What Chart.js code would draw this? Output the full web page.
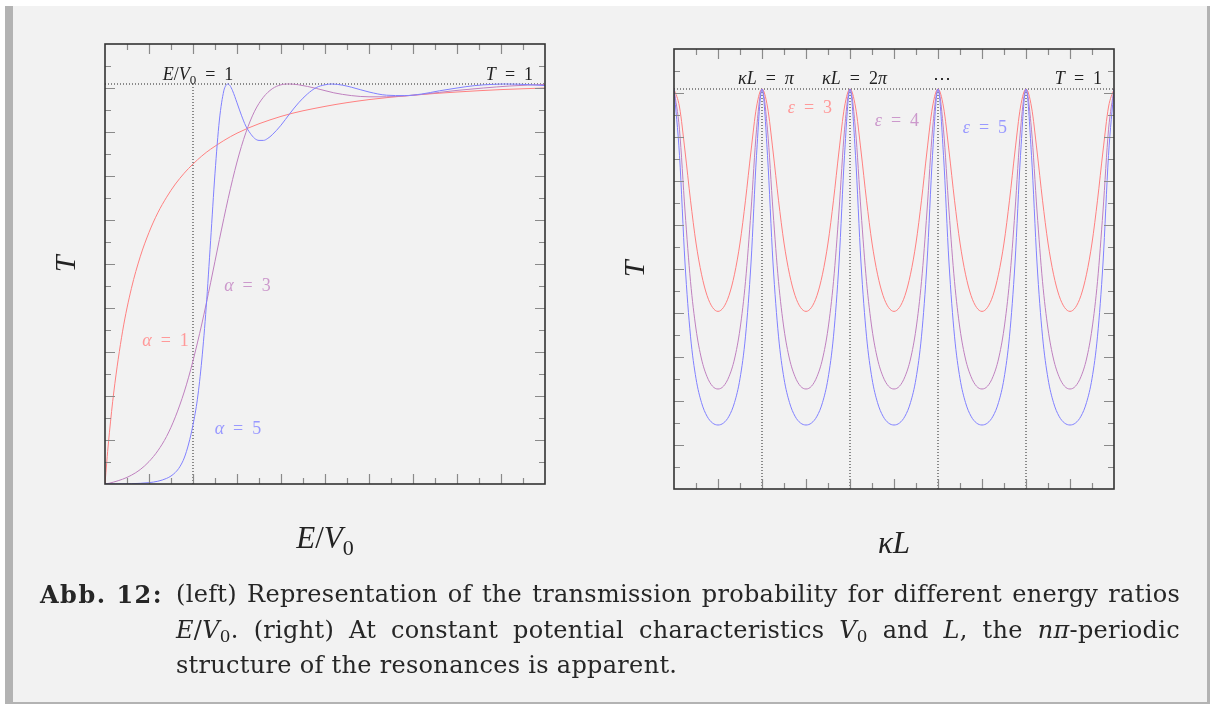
<!DOCTYPE html>
<html>
<head>
<meta charset="utf-8">
<script src="https://cdn.jsdelivr.net/npm/chart.js@4.4.0/dist/chart.umd.min.js"></script>
<style>
  html, body { margin: 0; padding: 0; background: #fff; }
  body { width: 1210px; height: 704px; position: relative; overflow: hidden; }
  #panel { position: absolute; left: 5px; top: 6px; width: 1194px; height: 696px; background: #f2f2f2;
           border-left: 8px solid #b3b3b3; border-right: 3px solid #b3b3b3; border-bottom: 2px solid #b3b3b3; }
  canvas { position: absolute; top: 0; }
  #left { left: 0; }
  #right { left: 590px; }
  #cap { position: absolute; left: 0; top: 577px; font-family: 'DejaVu Serif', 'Liberation Serif', serif;
         font-size: 24px; line-height: 35.5px; color: #262626; letter-spacing: 0.3px; }
  #cap .lab { position: absolute; left: 40px; top: 0; font-weight: bold; white-space: nowrap; letter-spacing: 1.5px; }
  #cap .body { position: absolute; left: 176px; top: 0; width: 1004px; }
  #cap .ln { white-space: nowrap; }
  #cap .j { text-align: justify; text-align-last: justify; white-space: normal; }
  #cap sub { font-size: 0.7em; vertical-align: -0.25em; line-height: 0; }
</style>
</head>
<body>
<div id="panel"></div>
<canvas id="left" width="590" height="580"></canvas>
<canvas id="right" width="600" height="580"></canvas>
<div id="cap">
  <div class="lab">Abb. 12:</div>
  <div class="body">
    <div class="ln j">(left) Representation of the transmission probability for different energy ratios</div>
    <div class="ln j"><i>E</i>/<i>V</i><sub>0</sub>. (right) At constant potential characteristics <i>V</i><sub>0</sub> and <i>L</i>, the <i>nπ</i>-periodic</div>
    <div class="ln">structure of the resonances is apparent.</div>
  </div>
</div>
<script>
// ---- left plot: T over E/V0 for alpha = 1, 3, 5
const evRed = [0, 0.01, 0.02, 0.03, 0.05, 0.1, 0.2, 0.3, 0.4, 0.5, 0.6, 0.7, 0.8, 0.9, 0.95, 1.0, 1.1, 1.2, 1.5, 2.0, 2.5, 3.0, 3.5, 4.0, 4.5, 5.0];
const tRed = [0, 0.028, 0.055, 0.081, 0.128, 0.230, 0.382, 0.489, 0.568, 0.629, 0.678, 0.717, 0.750, 0.777, 0.789, 0.800, 0.820, 0.837, 0.877, 0.919, 0.944, 0.961, 0.972, 0.980, 0.986, 0.990];

const evPurple = [0, 0.05, 0.1, 0.2, 0.3, 0.4, 0.5, 0.6, 0.7, 0.8, 0.9, 0.95, 1.0, 1.1, 1.2, 1.3, 1.4, 1.5, 1.6, 1.7,
                  1.8, 1.9, 2.0, 2.1, 2.2, 2.4, 2.6, 2.8, 3.0, 3.2, 3.4, 3.6, 3.8, 4.0, 4.3, 4.6, 5.0];
const tPurple = [0, 0.002, 0.005, 0.012, 0.022, 0.036, 0.056, 0.083, 0.119, 0.168, 0.230, 0.267, 0.308, 0.400, 0.503, 0.611, 0.714, 0.805, 0.878, 0.932,
                 0.967, 0.988, 0.998, 1.000, 0.998, 0.989, 0.978, 0.971, 0.968, 0.968, 0.970, 0.974, 0.979, 0.984, 0.990, 0.995, 0.999];

const evBlue = [0, 0.2, 0.4, 0.5, 0.6, 0.7, 0.75, 0.8, 0.85, 0.9, 0.95, 1.0, 1.05, 1.1, 1.15, 1.2, 1.25, 1.3, 1.35, 1.37,
                1.395, 1.42, 1.45, 1.5, 1.55, 1.6, 1.65, 1.7, 1.75, 1.8, 1.85, 1.9, 2.0, 2.1, 2.2, 2.3, 2.4, 2.5, 2.58, 2.7,
                2.8, 3.0, 3.2, 3.4, 3.6, 3.8, 4.0, 4.2, 4.4, 4.55, 4.7, 5.0];
const tBlue = [0, 0.0003, 0.0017, 0.0034, 0.0069, 0.014, 0.020, 0.029, 0.043, 0.065, 0.100, 0.148, 0.212, 0.310, 0.442, 0.608, 0.777, 0.910, 0.983, 0.995,
               1.000, 0.996, 0.983, 0.953, 0.922, 0.895, 0.877, 0.864, 0.859, 0.859, 0.864, 0.873, 0.897, 0.926, 0.953, 0.975, 0.991, 0.998, 1.000, 0.997,
               0.992, 0.980, 0.972, 0.971, 0.975, 0.983, 0.990, 0.996, 0.999, 1.000, 0.9995, 0.996];

// ---- right plot: T over kappa*L (in units of pi) for eps = 3, 4, 5
const kLoverPi = [
  0, 0.0625, 0.125, 0.1875, 0.25, 0.3125, 0.375, 0.4375, 0.5, 0.5625, 0.625, 0.6875, 0.75, 0.8125, 0.875, 0.9375,
  1, 1.0625, 1.125, 1.1875, 1.25, 1.3125, 1.375, 1.4375, 1.5, 1.5625, 1.625, 1.6875, 1.75, 1.8125, 1.875, 1.9375,
  2, 2.0625, 2.125, 2.1875, 2.25, 2.3125, 2.375, 2.4375, 2.5, 2.5625, 2.625, 2.6875, 2.75, 2.8125, 2.875, 2.9375,
  3, 3.0625, 3.125, 3.1875, 3.25, 3.3125, 3.375, 3.4375, 3.5, 3.5625, 3.625, 3.6875, 3.75, 3.8125, 3.875, 3.9375,
  4, 4.0625, 4.125, 4.1875, 4.25, 4.3125, 4.375, 4.4375, 4.5, 4.5625, 4.625, 4.6875, 4.75, 4.8125, 4.875, 4.9375,
  5];
const tEps3 = [
  1, 0.955, 0.845, 0.722, 0.615, 0.537, 0.484, 0.454, 0.444, 0.454, 0.484, 0.537, 0.615, 0.722, 0.845, 0.955,
  1, 0.955, 0.845, 0.722, 0.615, 0.537, 0.484, 0.454, 0.444, 0.454, 0.484, 0.537, 0.615, 0.722, 0.845, 0.955,
  1, 0.955, 0.845, 0.722, 0.615, 0.537, 0.484, 0.454, 0.444, 0.454, 0.484, 0.537, 0.615, 0.722, 0.845, 0.955,
  1, 0.955, 0.845, 0.722, 0.615, 0.537, 0.484, 0.454, 0.444, 0.454, 0.484, 0.537, 0.615, 0.722, 0.845, 0.955,
  1, 0.955, 0.845, 0.722, 0.615, 0.537, 0.484, 0.454, 0.444, 0.454, 0.484, 0.537, 0.615, 0.722, 0.845, 0.955,
  1];
const tEps4 = [
  1, 0.898, 0.695, 0.519, 0.400, 0.325, 0.281, 0.257, 0.250, 0.257, 0.281, 0.325, 0.400, 0.519, 0.695, 0.898,
  1, 0.898, 0.695, 0.519, 0.400, 0.325, 0.281, 0.257, 0.250, 0.257, 0.281, 0.325, 0.400, 0.519, 0.695, 0.898,
  1, 0.898, 0.695, 0.519, 0.400, 0.325, 0.281, 0.257, 0.250, 0.257, 0.281, 0.325, 0.400, 0.519, 0.695, 0.898,
  1, 0.898, 0.695, 0.519, 0.400, 0.325, 0.281, 0.257, 0.250, 0.257, 0.281, 0.325, 0.400, 0.519, 0.695, 0.898,
  1, 0.898, 0.695, 0.519, 0.400, 0.325, 0.281, 0.257, 0.250, 0.257, 0.281, 0.325, 0.400, 0.519, 0.695, 0.898,
  1];
const tEps5 = [
  1, 0.834, 0.565, 0.382, 0.276, 0.216, 0.182, 0.165, 0.160, 0.165, 0.182, 0.216, 0.276, 0.382, 0.565, 0.834,
  1, 0.834, 0.565, 0.382, 0.276, 0.216, 0.182, 0.165, 0.160, 0.165, 0.182, 0.216, 0.276, 0.382, 0.565, 0.834,
  1, 0.834, 0.565, 0.382, 0.276, 0.216, 0.182, 0.165, 0.160, 0.165, 0.182, 0.216, 0.276, 0.382, 0.565, 0.834,
  1, 0.834, 0.565, 0.382, 0.276, 0.216, 0.182, 0.165, 0.160, 0.165, 0.182, 0.216, 0.276, 0.382, 0.565, 0.834,
  1, 0.834, 0.565, 0.382, 0.276, 0.216, 0.182, 0.165, 0.160, 0.165, 0.182, 0.216, 0.276, 0.382, 0.565, 0.834,
  1];

// reference lines
const leftResonance = [1];          // E/V0 = 1
const rightResonances = [1, 2, 3, 4]; // kL = n*pi

const RED = '#ff8080', PURPLE = '#bf80bf', BLUE = '#8080ff';
const RED_TXT = '#ff9999', PURPLE_TXT = '#cc99cc', BLUE_TXT = '#9999ff';
const SERIF = "'Liberation Serif', 'DejaVu Serif', serif";

const pts = (xs, ys) => xs.map((x, i) => ({ x: x, y: ys[i] }));

function curve(data, color) {
  return { data: data, borderColor: color, borderWidth: 1, pointRadius: 0, cubicInterpolationMode: 'monotone', fill: false };
}
function dotted(data) {
  return { data: data, borderColor: '#222', borderWidth: 1, borderDash: [1, 2], pointRadius: 0, tension: 0, fill: false };
}

// draw a small formula: 'i' italic, 'r' roman, 's' subscript, 'op' relation with math spacing
function drawMath(ctx, parts, x, y, size, color, align) {
  const fontOf = k => k === 'i' ? `italic ${size}px ${SERIF}` : k === 's' ? `${Math.round(size * 0.7)}px ${SERIF}` : `${size}px ${SERIF}`;
  const gap = size * 0.5;
  const widthOf = (t, k) => { ctx.font = fontOf(k); return ctx.measureText(t).width + (k === 'op' ? 2 * gap : 0); };
  let w = 0;
  parts.forEach(([t, k]) => { w += widthOf(t, k); });
  let cx = align === 'center' ? x - w / 2 : align === 'right' ? x - w : x;
  ctx.fillStyle = color;
  ctx.textAlign = 'left';
  ctx.textBaseline = 'alphabetic';
  parts.forEach(([t, k]) => {
    const pw = widthOf(t, k);
    ctx.fillText(t, cx + (k === 'op' ? gap : 0), k === 's' ? y + size * 0.22 : y);
    cx += pw;
  });
}

// frame with inward ticks on all four sides
const frameTicks = {
  id: 'frameTicks',
  afterDatasetsDraw(chart) {
    const { ctx, chartArea: a, scales: { x, y } } = chart;
    const n = 20, longT = 10, shortT = 6;
    ctx.save();
    ctx.strokeStyle = '#8a8a8a';
    ctx.lineWidth = 1.2;
    ctx.beginPath();
    for (let i = 1; i < n; i++) {
      const len = i % 2 === 0 ? longT : shortT;
      const px = Math.round(x.getPixelForValue(x.min + i * (x.max - x.min) / n)) + 0.5;
      ctx.moveTo(px, a.bottom); ctx.lineTo(px, a.bottom - len);
      ctx.moveTo(px, a.top); ctx.lineTo(px, a.top + len);
      const py = Math.round(y.getPixelForValue(y.min + i * (y.max - y.min) / n)) + 0.5;
      ctx.moveTo(a.left, py); ctx.lineTo(a.left + len, py);
      ctx.moveTo(a.right, py); ctx.lineTo(a.right - len, py);
    }
    ctx.stroke();
    ctx.strokeStyle = '#333';
    ctx.lineWidth = 1.6;
    ctx.strokeRect(a.left, a.top, a.right - a.left, a.bottom - a.top);
    ctx.restore();
  }
};

// notes in data coordinates + axis titles
const notes = {
  id: 'notes',
  afterDraw(chart, args, opts) {
    const { ctx, chartArea: a, scales: { x, y } } = chart;
    ctx.save();
    opts.items.forEach(it => drawMath(ctx, it.parts, x.getPixelForValue(it.x), y.getPixelForValue(it.y), it.size || 18, it.color || '#222', it.align || 'center'));
    drawMath(ctx, opts.xTitle, (a.left + a.right) / 2, a.bottom + 64, 31, '#222', 'center');
    ctx.translate(a.left - 40, (a.top + a.bottom) / 2);
    ctx.rotate(-Math.PI / 2);
    drawMath(ctx, [['T', 'i']], 0, 10, 30, '#222', 'center');
    ctx.restore();
  }
};

function baseOptions(padding, xMax, items, xTitle) {
  return {
    responsive: false,
    animation: false,
    devicePixelRatio: 1,
    layout: { padding: padding },
    plugins: { legend: { display: false }, tooltip: { enabled: false }, notes: { items: items, xTitle: xTitle } },
    scales: {
      x: { type: 'linear', min: 0, max: xMax, display: false },
      y: { type: 'linear', min: 0, max: 1.1, display: false }
    }
  };
}

new Chart(document.getElementById('left'), {
  type: 'line',
  data: {
    datasets: [
      curve(pts(evBlue, tBlue), BLUE),
      curve(pts(evPurple, tPurple), PURPLE),
      curve(pts(evRed, tRed), RED),
      dotted([{ x: 0, y: 1 }, { x: 5, y: 1 }]),
      dotted([{ x: leftResonance[0], y: 0 }, { x: leftResonance[0], y: 1 }])
    ]
  },
  options: baseOptions({ left: 105, top: 44, right: 45, bottom: 96 }, 5, [
    { parts: [['E', 'i'], ['/', 'r'], ['V', 'i'], ['0', 's'], ['=', 'op'], ['1', 'r']], x: 1.057, y: 1.011 },
    { parts: [['T', 'i'], ['=', 'op'], ['1', 'r']], x: 4.864, y: 1.011, align: 'right' },
    { parts: [['α', 'i'], ['=', 'op'], ['1', 'r']], x: 0.6875, y: 0.345, color: RED_TXT },
    { parts: [['α', 'i'], ['=', 'op'], ['3', 'r']], x: 1.619, y: 0.4825, color: PURPLE_TXT },
    { parts: [['α', 'i'], ['=', 'op'], ['5', 'r']], x: 1.511, y: 0.125, color: BLUE_TXT }
  ], [['E', 'i'], ['/', 'r'], ['V', 'i'], ['0', 's']]),
  plugins: [frameTicks, notes]
});

new Chart(document.getElementById('right'), {
  type: 'line',
  data: {
    labels: kLoverPi,
    datasets: [
      curve(tEps5, BLUE),
      curve(tEps4, PURPLE),
      curve(tEps3, RED),
      dotted([{ x: 0, y: 1 }, { x: 5, y: 1 }])
    ].concat(rightResonances.map(n => dotted([{ x: n, y: 0 }, { x: n, y: 1 }])))
  },
  options: baseOptions({ left: 84, top: 49, right: 76, bottom: 91 }, 5, [
    { parts: [['κL', 'i'], ['=', 'op'], ['π', 'i']], x: 1.045, y: 1.0125 },
    { parts: [['κL', 'i'], ['=', 'op'], ['2', 'r'], ['π', 'i']], x: 2.051, y: 1.0125 },
    { parts: [['\u22EF', 'r']], x: 3.045, y: 1.0125 },
    { parts: [['T', 'i'], ['=', 'op'], ['1', 'r']], x: 4.864, y: 1.0125, align: 'right' },
    { parts: [['ε', 'i'], ['=', 'op'], ['3', 'r']], x: 1.545, y: 0.94, color: RED_TXT },
    { parts: [['ε', 'i'], ['=', 'op'], ['4', 'r']], x: 2.534, y: 0.9075, color: PURPLE_TXT },
    { parts: [['ε', 'i'], ['=', 'op'], ['5', 'r']], x: 3.534, y: 0.89, color: BLUE_TXT }
  ], [['κL', 'i']]),
  plugins: [frameTicks, notes]
});
</script>
</body>
</html>
